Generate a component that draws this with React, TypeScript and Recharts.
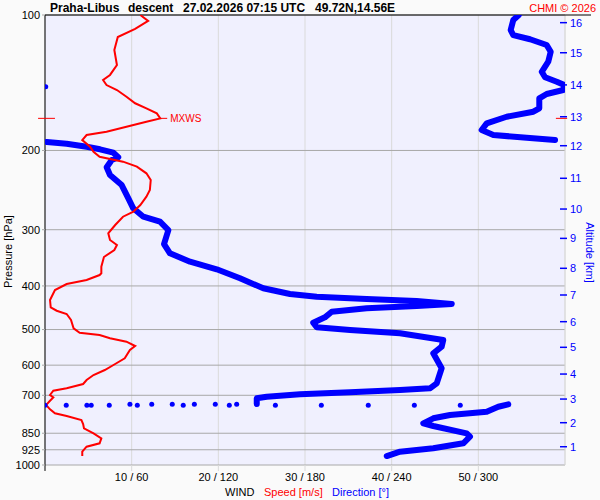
import React from 'react';
import { ComposedChart, Line, Scatter, XAxis, YAxis, CartesianGrid, ReferenceLine, ReferenceDot } from 'recharts';

// [pressure hPa, speed m/s]
const speedProfile = [
  [100, 11.0], [103.1, 11.9], [107.4, 10.4], [111.9, 8.4], [119.6, 8.0], [129.2, 8.3], [135.9, 7.5], [139.5, 6.7],
  [143.1, 7.1], [146.8, 8.3], [151.9, 9.4], [157.1, 10.4], [161.2, 11.7], [165.4, 12.9], [169.7, 13.3],
  [172.6, 11.7], [177.1, 9.4], [181.7, 7.1], [184.8, 4.8], [189.6, 4.3], [196.2, 5.2], [201.3, 5.6],
  [206.5, 6.3], [211.8, 9.0], [217.3, 10.6], [224.8, 11.7], [232.6, 12.2], [244.9, 12.1], [253.4, 11.7],
  [264.4, 11.0], [273.6, 10.2], [280.7, 9.0], [292.9, 8.1], [305.6, 7.3], [316.2, 7.5], [324.4, 8.3],
  [332.8, 8.0], [345.0, 6.8], [362.5, 6.5], [375.0, 6.5], [378.3, 6.3], [388.1, 4.8], [396.1, 2.5],
  [408.5, 1.15], [429.9, 0.58], [446.2, 0.66], [454.1, 1.35], [461.8, 2.5], [476.2, 3.0], [496.9, 3.3],
  [508.2, 4.0], [514.2, 6.3], [523.0, 7.5], [532.1, 9.4], [544.0, 10.4], [555.2, 9.8], [579.3, 9.2],
  [599.5, 7.9], [615.1, 6.9], [631.0, 5.6], [647.4, 4.8], [660.7, 4.4], [675.4, 2.5], [683.8, 0.96],
  [699.0, 0.58], [707.3, 0.96], [719.7, 0.58], [735.7, 0.12], [752.1, 0.58], [767.6, 1.15], [778.3, 2.5],
  [794.4, 4.2], [810.8, 4.4], [828.9, 4.5], [850.3, 5.6], [872.4, 6.5], [895.0, 6.3], [910.7, 4.8],
  [934.3, 4.3], [955.1, 4.3],
];

// [pressure hPa, direction deg] - pieces split where direction wraps 360 -> 0
const dirUpper = [
  [100, 328], [102.6, 324.2], [108.0, 322.4], [110.8, 324.2], [113.2, 335.8], [116.6, 347.3], [120.7, 350.1],
  [127.0, 348.4], [133.7, 343.9], [137.5, 346.2], [140.7, 354.3], [143.1, 359.5], [146.8, 358.8], [149.8, 347.3],
  [153.2, 342.2], [161.2, 342.2], [164.0, 338.1], [168.3, 319.6], [174.1, 305.8], [180.1, 302.3], [184.8, 310.4],
  [187.4, 333.5], [189.6, 353.1],
];

const dirMiddle = [
  [191.5, 1.2], [193.2, 15.0], [196.2, 28.9], [198.8, 38.1], [202.3, 47.3], [207.1, 50.7], [210.0, 46.2],
  [218.0, 42.7], [226.8, 45.0], [238.7, 53.1], [255.5, 57.7], [268.9, 61.1], [280.7, 68.1], [288.0, 79.6],
  [300.5, 85.4], [322.8, 82.4], [338.5, 86.5], [353.4, 100.4], [367.4, 118.9], [384.7, 135.0], [404.9, 151.1],
  [416.9, 169.6], [422.7, 188.1], [427.7, 222.7], [432.1, 257.3], [438.8, 281.6], [443.3, 257.3], [448.5, 222.7],
  [456.4, 198.5], [469.7, 193.8], [482.8, 185.7], [494.3, 188.1], [501.2, 211.2], [509.8, 245.8], [527.5, 275.7],
  [545.9, 274.6], [564.7, 268.8], [609.7, 274.6], [658.4, 271.2], [675.4, 266.5], [681.3, 245.8], [689.4, 211.2],
  [696.5, 176.5], [705.1, 153.5], [710.9, 146.6], [731.9, 146.6],
];

const dirLower = [
  [733.1, 320.7], [742.1, 313.8], [761.4, 305.8], [774.3, 280.4], [787.5, 268.8], [807.9, 261.9], [819.1, 268.8],
  [850.3, 291.9], [865.2, 294.2], [895.0, 289.6], [918.2, 268.8], [934.3, 245.8], [955.1, 236.6],
];

// isolated direction samples (fast turning near calm layer)
const dirDots = [
  [144.3, 0.5],
  [736.8, 0], [736.8, 14.7], [736.8, 29.0], [736.8, 32.0], [736.8, 44.5], [733.1, 58.8], [736.8, 63.9],
  [733.1, 73.9], [733.1, 88.1], [736.8, 95.7], [733.1, 103.4], [733.1, 117.9], [736.8, 127.6], [733.1, 132.7],
  [736.8, 159.5], [736.8, 191.3], [736.8, 223.8], [736.8, 255.7], [736.8, 287.5],
];

const pressureTicks = [100, 200, 300, 400, 500, 600, 700, 850, 925, 1000];
const speedTicks = [10, 20, 30, 40, 50];
// [pressure hPa, altitude km]
const altitudeTicks = [
  [104.0, 16], [121.3, 15], [143.0, 14], [168.3, 13], [195.2, 12], [230.6, 11], [269.9, 10], [313.6, 9],
  [365.5, 8], [419.0, 7], [480.3, 6], [547.6, 5], [627.9, 4], [713.6, 3], [805.4, 2], [910.7, 1],
];

const MXWS_P = 169.7;
const MXWS_SPEED = 13.3;

const BLUE = '#0000ff';
const RED = '#ff0000';
const FONT = '"Liberation Sans", Arial, sans-serif';

const toPts = (rows: number[][]) => rows.map(([p, x]) => ({ p, x }));

const AltTick = (props: any) => {
  const { x, y, payload } = props;
  const row = altitudeTicks.find((r) => r[0] === payload.value);
  return (
    <g>
      <line x1={x - 5} x2={x + 2} y1={y} y2={y} stroke={BLUE} strokeWidth={1.5} />
      <text x={x + 5} y={y} dy="0.35em" fontSize={11} fill={BLUE} fontFamily={FONT}>
        {row ? row[1] : ''}
      </text>
    </g>
  );
};

const Dot = (props: any) => <circle cx={props.cx} cy={props.cy} r={2.5} fill={BLUE} />;

export default function App() {
  return (
    <div style={{ position: 'absolute', left: 0, top: 0, width: 600, height: 500, background: '#fafafa', fontFamily: FONT }}>
      <ComposedChart width={600} height={500} margin={{ top: 15, right: 0, bottom: 0, left: 0 }}>
        <CartesianGrid horizontal={false} stroke="#dadada" fill="#f0f0fe" />
        <CartesianGrid vertical={false} stroke="#a8a8a8" />
        <XAxis
          dataKey="x"
          type="number"
          domain={[0, 60]}
          ticks={speedTicks}
          interval={0}
          allowDataOverflow
          height={35}
          axisLine={false}
          tickLine={{ stroke: '#dadada' }}
          tickSize={6}
          tickMargin={2}
          tick={{ fontSize: 11, fill: '#000' }}
          tickFormatter={(v: number) => `${v} / ${v * 6}`}
        />
        <XAxis xAxisId="dir" dataKey="x" type="number" domain={[0, 360]} allowDataOverflow hide />
        <YAxis
          dataKey="p"
          type="number"
          scale="log"
          domain={[100, 1000]}
          reversed
          ticks={pressureTicks}
          interval={0}
          allowDataOverflow
          width={45}
          axisLine={false}
          tickLine={{ stroke: '#a8a8a8' }}
          tickSize={3}
          tickMargin={2}
          tick={{ fontSize: 11, fill: '#000' }}
        />
        <YAxis
          yAxisId="alt"
          orientation="right"
          type="number"
          scale="log"
          domain={[100, 1000]}
          reversed
          ticks={altitudeTicks.map((r) => r[0])}
          interval={0}
          allowDataOverflow
          width={35}
          axisLine={false}
          tickLine={false}
          tickSize={0}
          tickMargin={0}
          tick={<AltTick />}
        />
        <ReferenceLine x={60} stroke="#dadada" />
        <ReferenceLine segment={[{ x: 0, y: 100 }, { x: 63, y: 100 }]} stroke="#000" ifOverflow="visible" />
        <ReferenceLine segment={[{ x: 0, y: 100 }, { x: 0, y: 1031 }]} stroke="#000" ifOverflow="visible" />

        <Line data={toPts(dirUpper)} xAxisId="dir" dataKey="p" type="linear" stroke={BLUE} strokeWidth={6}
          strokeLinejoin="round" strokeLinecap="round" dot={false} isAnimationActive={false} />
        <Line data={toPts(dirMiddle)} xAxisId="dir" dataKey="p" type="linear" stroke={BLUE} strokeWidth={6}
          strokeLinejoin="round" strokeLinecap="round" dot={false} isAnimationActive={false} />
        <Line data={toPts(dirLower)} xAxisId="dir" dataKey="p" type="linear" stroke={BLUE} strokeWidth={6}
          strokeLinejoin="round" strokeLinecap="round" dot={false} isAnimationActive={false} />
        <Scatter data={toPts(dirDots)} xAxisId="dir" fill={BLUE} shape={<Dot />} isAnimationActive={false} />
        <Line data={toPts(speedProfile)} dataKey="p" type="linear" stroke={RED} strokeWidth={2}
          dot={false} isAnimationActive={false} />

        <ReferenceLine segment={[{ x: -0.8, y: MXWS_P }, { x: 1.15, y: MXWS_P }]} stroke={RED} ifOverflow="visible" />
        <ReferenceLine segment={[{ x: 58.95, y: MXWS_P }, { x: 60.25, y: MXWS_P }]} stroke={RED} ifOverflow="visible" />
        <ReferenceLine segment={[{ x: MXWS_SPEED, y: MXWS_P }, { x: 14.1, y: MXWS_P }]} stroke={RED} ifOverflow="visible" />
        <ReferenceDot x={14.1} y={MXWS_P} r={0} ifOverflow="visible"
          label={{ value: 'MXWS', position: 'right', offset: 3, fill: RED, fontSize: 10 }} />
      </ComposedChart>

      <svg width={600} height={500} style={{ position: 'absolute', left: 0, top: 0, pointerEvents: 'none' }}>
        <g fontFamily={FONT} fontWeight="bold" fontSize={12} fill="#000">
          <text x={50} y={12}>Praha-Libus</text>
          <text x={128} y={12}>descent</text>
          <text x={183} y={12}>27.02.2026 07:15 UTC</text>
          <text x={315} y={12}>49.72N,14.56E</text>
        </g>
        <text x={596} y={12} textAnchor="end" fontFamily={FONT} fontSize={11} fill={RED}>CHMI © 2026</text>
        <text x={12} y={251.5} textAnchor="middle" fontFamily={FONT} fontSize={11} fill="#000"
          transform="rotate(-90, 12, 251.5)">Pressure [hPa]</text>
        <text x={586} y={252.5} textAnchor="middle" fontFamily={FONT} fontSize={11} fill={BLUE}
          transform="rotate(90, 586, 252.5)">Altitude [km]</text>
        <g fontFamily={FONT} fontSize={11}>
          <text x={225} y={495.5} fill="#000">WIND</text>
          <text x={264} y={495.5} fill={RED}>Speed [m/s]</text>
          <text x={332} y={495.5} fill={BLUE}>Direction [°]</text>
        </g>
      </svg>
    </div>
  );
}
